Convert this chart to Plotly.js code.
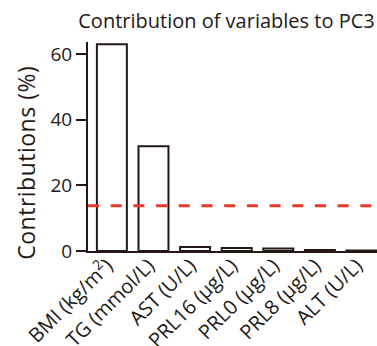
<!DOCTYPE html>
<html>
<head>
<meta charset="utf-8">
<script src="https://cdn.plot.ly/plotly-3.0.1.min.js"></script>
<style>
html,body{margin:0;padding:0;background:#fff;}
#chart{width:377px;height:346px;}
#chart .annotation-text{letter-spacing:0.5px;}
</style>
</head>
<body>
<div id="chart"></div>
<script>
const categories = ["BMI (kg/m<sup>2</sup>)", "TG (mmol/L)", "AST (U/L)", "PRL16 (µg/L)", "PRL0 (µg/L)", "PRL8 (µg/L)", "ALT (U/L)"];
const contributions = [63.0, 31.9, 1.2, 0.9, 0.8, 0.3, 0.15];
const expectedContribution = [13.8];
const yTickValues = [0, 20, 40, 60];

const ink = "#231815";
const font = "Open Sans, Noto Sans, sans-serif";

const trace = {
  type: "bar",
  x: categories,
  y: contributions,
  width: 0.72,
  marker: {color: "#ffffff", line: {color: ink, width: 2}},
  hoverinfo: "skip"
};

const layout = {
  width: 377, height: 346,
  margin: {l: 88, r: 0, t: 42, b: 95, pad: 0},
  paper_bgcolor: "#fff", plot_bgcolor: "#fff",
  showlegend: false,
  font: {family: font, color: ink},
  title: {
    text: "Contribution of variables to PC3",
    font: {family: font, size: 20, color: ink},
    x: 226.5/377, xanchor: "center", xref: "container",
    y: 1 - 21/346, yanchor: "middle", yref: "container"
  },
  xaxis: {
    type: "category",
    range: [-0.574, 6.373],
    showline: true, linecolor: ink, linewidth: 2,
    ticks: "", tickangle: -45,
    ticklabelstandoff: -7, ticklabelshift: -5,
    tickfont: {family: font, size: 20, color: ink},
    showgrid: false, zeroline: false, automargin: false, fixedrange: true
  },
  yaxis: {
    range: [0, 63.7],
    tickvals: yTickValues,
    showline: true, linecolor: ink, linewidth: 2,
    ticks: "outside", ticklen: 10, tickwidth: 2, tickcolor: ink,
    tickfont: {family: font, size: 19, color: ink},
    showgrid: false, zeroline: false, automargin: false, fixedrange: true
  },
  annotations: [{
    text: "Contributions (%)",
    textangle: -90,
    xref: "paper", x: (25 - 88) / 289, xanchor: "center",
    yref: "paper", y: (251 - 163.5) / 209, yanchor: "middle",
    showarrow: false,
    font: {family: font, size: 23, color: ink}
  }],
  shapes: [{
    type: "line", xref: "paper", x0: 0, x1: 1,
    yref: "y", y0: expectedContribution[0], y1: expectedContribution[0],
    line: {color: "#e8372b", width: 3, dash: "11px,11.7px"},
    layer: "above"
  }]
};

Plotly.newPlot("chart", [trace], layout, {staticPlot: true, displayModeBar: false});
</script>
</body>
</html>
